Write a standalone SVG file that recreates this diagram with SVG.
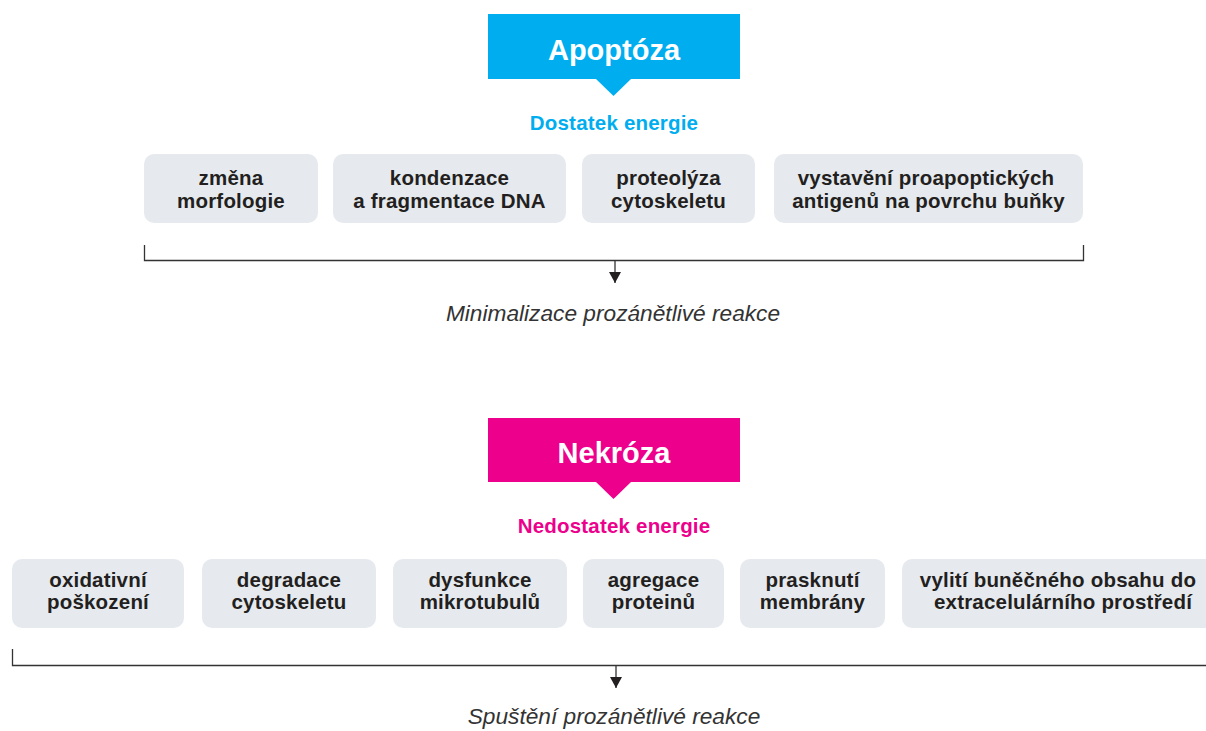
<svg xmlns="http://www.w3.org/2000/svg" width="1206" height="731" viewBox="0 0 1206 731">
<defs>
<style>
.node rect{fill:#e6eaee}
.nt{font-family:"Liberation Sans",Arial,sans-serif;font-weight:bold;font-size:20.5px;letter-spacing:0.2px;fill:#231f20;text-anchor:middle}
.title{font-family:"Liberation Sans",Arial,sans-serif;font-weight:bold;font-size:29px;fill:#fff;text-anchor:middle}
.sub{font-family:"Liberation Sans",Arial,sans-serif;font-weight:bold;font-size:20.5px;letter-spacing:0.2px;text-anchor:middle}
.res{font-family:"Liberation Sans",Arial,sans-serif;font-style:italic;font-size:22.7px;fill:#333;text-anchor:middle}
.ln{fill:none;stroke:#333;stroke-width:1.3}
</style>
<marker id="ah" viewBox="0 0 12 12" refX="11" refY="6" markerWidth="12" markerHeight="12" markerUnits="userSpaceOnUse" orient="auto">
<path d="M0,0 L11,6 L0,12 Z" fill="#231f20"/>
</marker>
</defs>
<rect width="1206" height="731" fill="#fff"/>

<g id="apoptoza">
<rect x="488" y="14" width="252" height="65" fill="#00aeef"/>
<path d="M595,78 L632,78 L613.5,96 Z" fill="#00aeef"/>
<text class="title" x="614" y="60">Apoptóza</text>
</g>
<text class="sub" x="614" y="130" fill="#00aeef">Dostatek energie</text>

<g id="a1" class="node"><rect x="144" y="154" width="174" height="69" rx="10"/>
<text class="nt" x="231" y="185">změna</text><text class="nt" x="231" y="208">morfologie</text></g>
<g id="a2" class="node"><rect x="333" y="154" width="233" height="69" rx="10"/>
<text class="nt" x="449.5" y="185">kondenzace</text><text class="nt" x="449.5" y="208">a fragmentace DNA</text></g>
<g id="a3" class="node"><rect x="582" y="154" width="173" height="69" rx="10"/>
<text class="nt" x="668.5" y="185">proteolýza</text><text class="nt" x="668.5" y="208">cytoskeletu</text></g>
<g id="a4" class="node"><rect x="774" y="154" width="309" height="69" rx="10"/>
<text class="nt" x="926" y="185">vystavění proapoptických</text><text class="nt" x="928.5" y="208">antigenů na povrchu buňky</text></g>

<g id="nekroza">
<rect x="488" y="418" width="252" height="64" fill="#ec008c"/>
<path d="M595,481 L632,481 L613.5,499 Z" fill="#ec008c"/>
<text class="title" x="614" y="463">Nekróza</text>
</g>
<text class="sub" x="614" y="533" fill="#ec008c">Nedostatek energie</text>

<g id="n1" class="node"><rect x="12" y="559" width="172" height="69" rx="10"/>
<text class="nt" x="98" y="587">oxidativní</text><text class="nt" x="98" y="609">poškození</text></g>
<g id="n2" class="node"><rect x="202" y="559" width="174" height="69" rx="10"/>
<text class="nt" x="289" y="587">degradace</text><text class="nt" x="289" y="609">cytoskeletu</text></g>
<g id="n3" class="node"><rect x="393" y="559" width="174" height="69" rx="10"/>
<text class="nt" x="480" y="587">dysfunkce</text><text class="nt" x="480" y="609">mikrotubulů</text></g>
<g id="n4" class="node"><rect x="583" y="559" width="141" height="69" rx="10"/>
<text class="nt" x="653.5" y="587">agregace</text><text class="nt" x="653.5" y="609">proteinů</text></g>
<g id="n5" class="node"><rect x="740" y="559" width="145" height="69" rx="10"/>
<text class="nt" x="812.5" y="587">prasknutí</text><text class="nt" x="812.5" y="609">membrány</text></g>
<g id="n6" class="node"><rect x="902" y="559" width="320" height="69" rx="10"/>
<text class="nt" x="1058" y="587">vylití buněčného obsahu do</text><text class="nt" x="1063" y="609">extracelulárního prostředí</text></g>

<g id="connectors">
<path class="ln" d="M144.5,245 V260.5 H1083.5 V245"/>
<path class="ln" d="M615,260.5 V283" marker-end="url(#ah)"/>
<path class="ln" d="M12.5,649 V665.5 H1206"/>
<path class="ln" d="M616,665.5 V688" marker-end="url(#ah)"/>
</g>

<text class="res" x="613" y="321">Minimalizace prozánětlivé reakce</text>
<text class="res" x="614" y="724">Spuštění prozánětlivé reakce</text>
</svg>
